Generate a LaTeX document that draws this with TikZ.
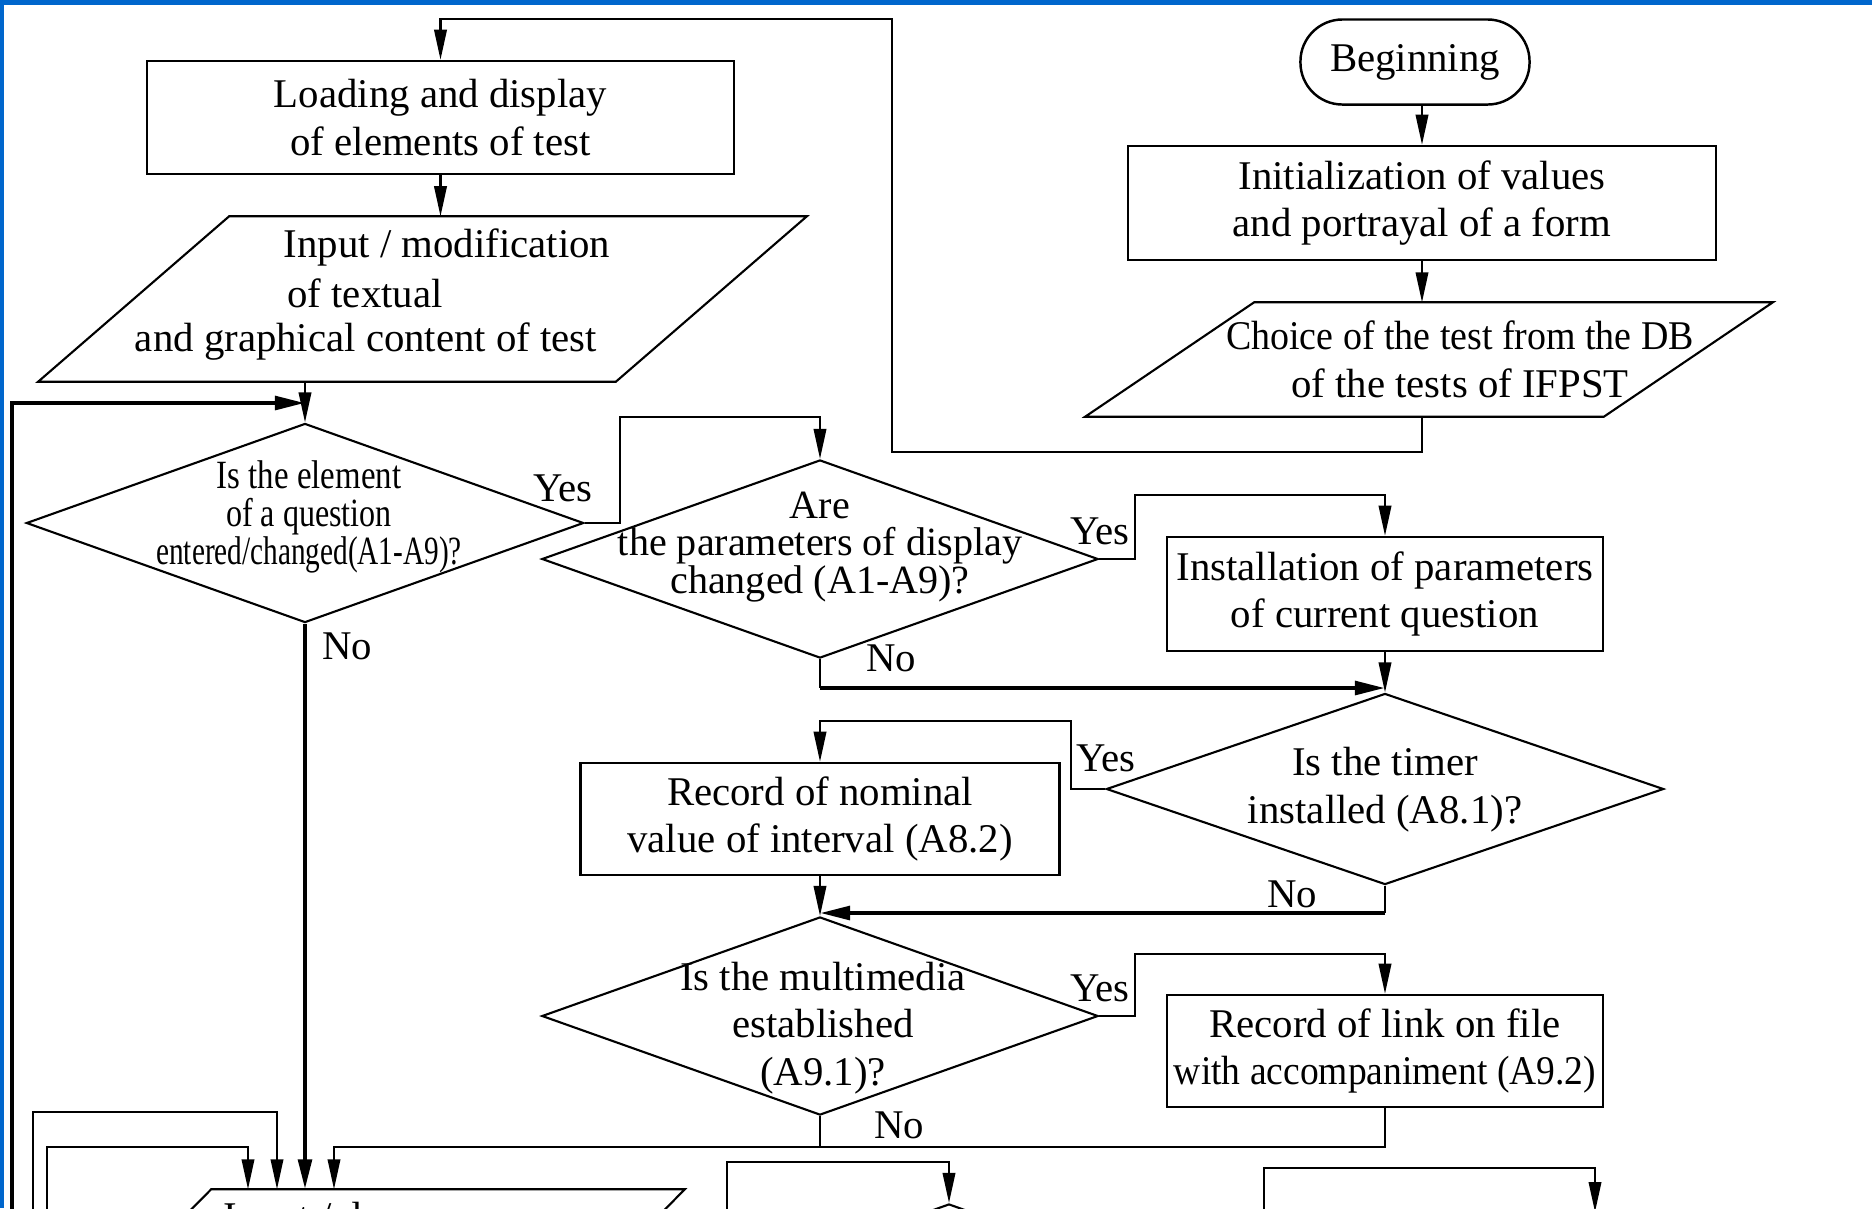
\documentclass[tikz,border=0pt]{standalone}
\usepackage{fontspec}
\setmainfont{Liberation Serif}
\usepackage{graphicx}
\usepackage{tikz}
\usetikzlibrary{shapes.geometric, arrows.meta}
\definecolor{slideblue}{RGB}{0,102,204}
\newcommand{\boxfont}{\fontsize{11.6}{13.6}\selectfont}
\newcommand{\askfont}{\fontsize{11.4}{10.7}\selectfont}
\newcommand{\narrow}[2]{\scalebox{#1}[1]{#2}}

\begin{document}
\begin{tikzpicture}[x=0.01cm, y=-0.01cm,
    box/.style={draw, rectangle, line width=0.7pt, inner sep=0pt, align=center, font=\boxfont},
    askbox/.style={draw, diamond, line width=0.6pt, inner sep=0pt, minimum width=5.56cm, minimum height=1.98cm},
    ioarea/.style={rectangle, inner sep=0pt},
    ioline/.style={line width=0.6pt},
    asktext/.style={align=center, inner sep=0pt, font=\askfont},
    answer/.style={inner sep=0pt, font=\boxfont},
    wire/.style={line width=0.6pt},
    flow/.style={line width=0.6pt, -{Triangle[length=3mm, width=1.25mm]}},
    boldflow/.style={line width=1.2pt, -{Triangle[length=3mm, width=1.35mm]}}]

        % 1. Page limits (the chart is cut at the bottom)
        \useasboundingbox (0,0) rectangle (1872,1208);
        \clip (0,0) rectangle (1872,1208);

        % 2. Start of the editor (right column)
        \node[box, rounded corners=0.42cm, minimum width=2.29cm, minimum height=0.85cm] (begin) at (1415,62) {Beginning};
        \node[box, minimum width=5.88cm, minimum height=1.14cm] (init) at (1422,203) {Initialization of values\\and portrayal of a form};
        \node[ioarea, minimum width=5.17cm, minimum height=1.13cm] (choice) at (1429,359.5) {};
        \draw[ioline] ([xshift=0.845cm]choice.north west) -- ([xshift=0.845cm]choice.north east)
            -- ([xshift=-0.845cm]choice.south east) -- ([xshift=-0.845cm]choice.south west) -- cycle;
        \node[asktext, font=\boxfont] (choicetxt) at (1460,359) {\narrow{0.93}{Choice of the test from the DB}\\of the tests of IFPST};

        % 3. Loading and input of the test (left column)
        \node[box, minimum width=5.87cm, minimum height=1.13cm] (load) at (440.5,117.5) {Loading and display\\of elements of test};
        \node[ioarea, minimum width=5.76cm, minimum height=1.64cm] (input) at (422.5,299) {};
        \draw[ioline] ([xshift=0.955cm]input.north west) -- ([xshift=0.955cm]input.north east)
            -- ([xshift=-0.955cm]input.south east) -- ([xshift=-0.955cm]input.south west) -- cycle;
        \node[answer] (inputa) at (447,247) {Input / modification};
        \node[answer] (inputb) at (365,293) {of textual};
        \node[answer] (inputc) at (366,342) {and graphical content of test};

        % 4. Questions and the boxes they lead to
        \node[askbox, minimum width=5.57cm, minimum height=1.99cm] (d1) at (305,523) {};
        \node[asktext] (d1txt) at (309,517) {\narrow{0.82}{Is the element}\\\narrow{0.8}{of a question}\\\narrow{0.73}{entered/changed(A1-A9)?}};

        \node[askbox] (d2) at (820,559) {};
        \node[asktext] (d2txt) at (820,547) {Are\\the parameters of display\\changed (A1-A9)?};

        \node[box, minimum width=4.36cm, minimum height=1.14cm] (inst) at (1385,594) {Installation of parameters\\of current question};

        \node[askbox, minimum width=5.57cm, minimum height=1.91cm] (d3) at (1385,789) {};
        \node[asktext, font=\boxfont] (d3txt) at (1385,790) {Is the timer\\installed (A8.1)?};

        \node[box, minimum width=4.79cm, minimum height=1.12cm] (recn) at (820,819) {Record of nominal\\value of interval (A8.2)};

        \node[askbox] (d4) at (820,1016) {};
        \node[asktext, font=\boxfont] (d4txt) at (823,1028) {Is the multimedia\\established\\(A9.1)?};

        \node[box, minimum width=4.36cm, minimum height=1.12cm] (recl) at (1385,1051) {Record of link on file\\\narrow{0.92}{with accompaniment (A9.2)}};

        % 5. Shapes cut off by the lower edge
        \node[ioarea, minimum width=4.72cm, minimum height=1.64cm] (input2) at (366,1272) {};
        \draw[ioline] ([xshift=0.82cm]input2.north west) -- ([xshift=0.82cm]input2.north east)
            -- ([xshift=-0.82cm]input2.south east) -- ([xshift=-0.82cm]input2.south west) -- cycle;
        \node[answer, anchor=base west] (input2txt) at (223,1230) {Input / d};
        \node[askbox] (d5) at (949,1303) {};

        % 6. Connectors
        \coordinate (back1) at (892,452);
        \coordinate (back2) at (892,19);
        \draw[flow] (init.south |- choice.south) |- (back1) -- (back2) -| (load.north);

        \draw[flow] (init.north |- begin.south) -- (init.north);
        \draw[flow] (init.south) -- (init.south |- choice.north);
        \draw[flow] (load.south) -- (load.south |- input.north);
        \draw[flow] (d1.north |- input.south) -- (d1.north);

        \coordinate (d1in) at (305,403);
        \coordinate (loopL) at (12,1230);
        \draw[boldflow] (loopL) |- (d1in);

        % yes / no branches
        \coordinate (yes1turn) at (620,417);
        \draw[flow] (d1.east) -| (yes1turn) -| (d2.north);
        \draw[boldflow] (d1.south) -- (d1.south |- input2.north);

        \coordinate (yes2turn) at (1135,495);
        \draw[flow] (d2.east) -| (yes2turn) -| (inst.north);
        \coordinate (no2turn) at (1385,688);
        \draw[wire] (d2.south) -- (d2.south |- no2turn);
        \draw[boldflow] (d2.south |- no2turn) -- (no2turn);
        \draw[flow] (inst.south) -- (d3.north);

        \coordinate (yes3turn) at (1071,721);
        \draw[flow] (d3.west) -| (yes3turn) -| (recn.north);
        \coordinate (no3turn) at (820,913);
        \draw[wire] (d3.south) -- (d3.south |- no3turn);
        \draw[boldflow] (d3.south |- no3turn) -- (no3turn);
        \draw[flow] (recn.south) -- (d4.north);

        \coordinate (yes4turn) at (1135,954);
        \draw[flow] (d4.east) -| (yes4turn) -| (recl.north);
        \coordinate (join4) at (334,1147);
        \draw[wire] (d4.south) -- (d4.south |- join4);
        \draw[flow] (recl.south) |- (join4) -- (join4 |- input2.north);

        % lines coming up from the part below the edge
        \coordinate (feedA) at (33,1230);
        \coordinate (feedAtop) at (277,1112);
        \draw[flow] (feedA) |- (feedAtop) -- (feedAtop |- input2.north);
        \coordinate (feedB) at (47,1230);
        \coordinate (feedBtop) at (248,1147);
        \draw[flow] (feedB) |- (feedBtop) -- (feedBtop |- input2.north);
        \coordinate (feedC) at (727,1230);
        \coordinate (feedCtop) at (949,1162);
        \draw[flow] (feedC) |- (feedCtop) -- (d5.north);
        \coordinate (feedD) at (1264,1230);
        \coordinate (feedDtop) at (1595,1168);
        \coordinate (feedDend) at (1595,1212);
        \draw[flow] (feedD) |- (feedDtop) -- (feedDend);

        % 7. Answer labels
        \node[answer] (yes1) at (563,488) {Yes};
        \node[answer] (no1) at (347,646) {No};
        \node[answer] (yes2) at (1100,531) {Yes};
        \node[answer] (no2) at (891,658) {No};
        \node[answer] (yes3) at (1106,758) {Yes};
        \node[answer] (no3) at (1292,894) {No};
        \node[answer] (yes4) at (1100,988) {Yes};
        \node[answer] (no4) at (899,1125) {No};

        % 8. Slide frame
        \fill[slideblue] (0,0) rectangle (1872,5);
        \fill[slideblue] (0,0) rectangle (4,1208);

\end{tikzpicture}
\end{document}
